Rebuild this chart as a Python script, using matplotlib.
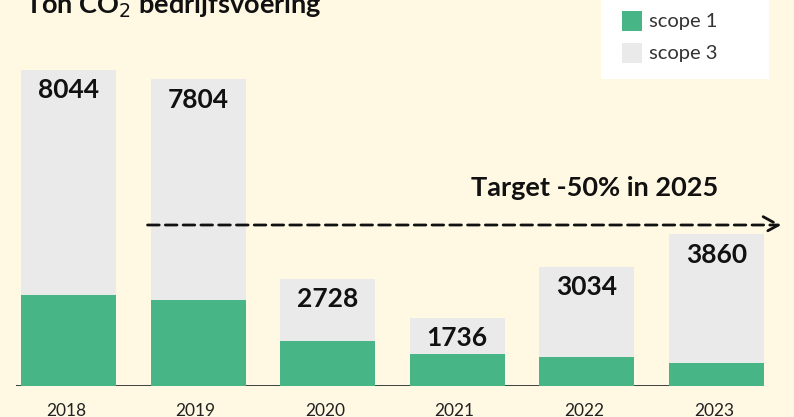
import numpy as np
import matplotlib.pyplot as plt
from matplotlib.patches import Rectangle

plt.rcParams['font.family'] = ['Lato', 'DejaVu Sans']

# data
jaren = ['2018', '2019', '2020', '2021', '2022', '2023']
totaal = [8044, 7804, 2728, 1736, 3034, 3860]
scope1 = [2320, 2190, 1145, 815, 740, 585]
scope3 = [t - s for t, s in zip(totaal, scope1)]

groen = '#47B586'
grijs = '#EAEAEA'
achtergrond = '#FFF8E3'

fig = plt.figure(figsize=(7.94, 4.17), dpi=100, facecolor=achtergrond)
ax = fig.add_axes([0, 31 / 417, 1, 386 / 417])
ax.set_facecolor(achtergrond)

x = np.arange(len(jaren))
# baseline
ax.hlines(0, -0.405, 4.63, color='#222222', lw=1.2, zorder=1)
ax.bar(x, scope1, width=0.733, color=groen, zorder=2, label='scope 1')
ax.bar(x, scope3, width=0.733, bottom=scope1, color=grijs, zorder=2, label='scope 3')

for xi, t in zip(x, totaal):
    ax.text(xi, t - 520, str(t), ha='center', va='center', fontsize=19,
            fontweight='bold', color='#111111', zorder=3)

ax.set_xlim(-68.5 / 129.6, (794 - 68.5) / 129.6)
ax.set_ylim(0, 386 / 0.0393)
for s in ax.spines.values():
    s.set_visible(False)
ax.set_yticks([])
ax.set_xticks(x - 0.02)
ax.set_xticklabels(jaren, fontsize=12.5, color='#222222')
ax.tick_params(axis='x', length=0, pad=12)

# target arrow
ya = (386 - 225) / 0.0393
ax.annotate('', xy=(5.5, ya), xytext=(0.61, ya),
            arrowprops=dict(arrowstyle='->,head_length=1.1,head_width=0.6',
                            lw=2, ls=(0, (4.2, 2.2)), color='#111111',
                            shrinkA=0, shrinkB=0), zorder=4)
ax.text(4.06, (386 - 188) / 0.0393, 'Target -50% in 2025', ha='center',
        va='center', fontsize=19.5, fontweight='bold', color='#111111')

# title (cut at top)
fig.text(25 / 794, 1 - 14 / 417, 'Ton CO$_2$ bedrijfsvoering', ha='left',
         va='baseline', fontsize=19.5, fontweight='bold', color='#111111')

# legend box
fig.patches.append(Rectangle((601 / 794, 1 - 79 / 417), 168 / 794, 79 / 417,
                             transform=fig.transFigure, facecolor='white',
                             edgecolor='none', zorder=5))
fig.patches.append(Rectangle((622 / 794, 1 - 31 / 417), 20 / 794, 20 / 417,
                             transform=fig.transFigure, facecolor=groen,
                             edgecolor='none', zorder=6))
fig.patches.append(Rectangle((622 / 794, 1 - 63 / 417), 20 / 794, 20 / 417,
                             transform=fig.transFigure, facecolor=grijs,
                             edgecolor='none', zorder=6))
fig.text(649 / 794, 1 - 21 / 417, 'scope 1', fontsize=14.5, color='#333333',
         va='center', zorder=7)
fig.text(649 / 794, 1 - 53 / 417, 'scope 3', fontsize=14.5, color='#333333',
         va='center', zorder=7)

fig.savefig('out.png', dpi=100, facecolor=achtergrond)
